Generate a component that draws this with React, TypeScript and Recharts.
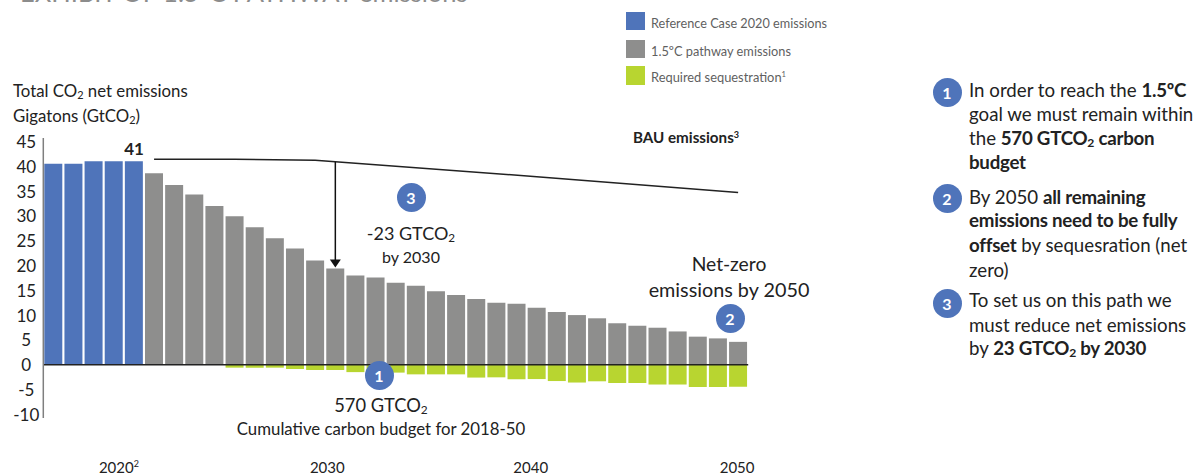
import React from "react";
import {
  Bar,
  ComposedChart,
  Line,
  ReferenceLine,
  XAxis,
  YAxis,
} from "recharts";

const FONT = "Lato, 'Open Sans', sans-serif";
const BLUE = "#4F74BA";
const GRAY = "#8E8E8D";
const GREEN = "#B8D530";
const INK = "#222";

const years = [
  2016, 2017, 2018, 2019, 2020, 2021, 2022, 2023, 2024, 2025, 2026, 2027,
  2028, 2029, 2030, 2031, 2032, 2033, 2034, 2035, 2036, 2037, 2038, 2039,
  2040, 2041, 2042, 2043, 2044, 2045, 2046, 2047, 2048, 2049, 2050,
];
const referenceCase = [40.5, 40.5, 41, 41, 41];
const pathway = [
  38.6, 36.2, 34.3, 32, 29.9, 27.7, 25.5, 23.4, 21, 19.4, 18, 17.6, 16.5, 15.9,
  14.8, 14.05, 13.25, 12.5, 12.3, 11.5, 10.6, 10, 9.35, 8.35, 7.85, 7.45, 6.7,
  5.65, 5.3, 4.6,
];
const sequestration = [
  -0.6, -0.6, -0.6, -0.87, -1.07, -1.07, -1.5, -1.5, -1.6, -1.95, -1.95, -1.95,
  -2.6, -2.55, -2.95, -2.9, -3.3, -3.6, -3.35, -3.7, -3.7, -4, -4, -4.5, -4.5,
  -4.45,
];
// BAU line is only known at a few years, the rest is bridged with connectNulls
const bauYears = [2021, 2025, 2029, 2030, 2040, 2050];
const bauValues = [41.4, 41.4, 41.2, 40.9, 37.9, 34.7];

const yTicks = [45, 40, 35, 30, 25, 20, 15, 10, 5, 0, -5, -10];
const xTicks = [2020, 2030, 2040, 2050];

const chartData = years.map((year, i) => ({
  year,
  reference: referenceCase[i] ?? null,
  pathway: i >= 5 ? pathway[i - 5] : null,
  sequestration: i >= 9 ? sequestration[i - 9] : null,
  bau: bauYears.includes(year) ? bauValues[bauYears.indexOf(year)] : null,
}));

const legendItems = [
  { color: BLUE, label: "Reference Case 2020 emissions", note: "", top: 11.5, width: 176 },
  { color: GRAY, label: "1.5ºC pathway emissions", note: "", top: 39.5, width: 140 },
  { color: GREEN, label: "Required sequestration", note: "1", top: 66, width: 135 },
];

function YTick({ x, y, payload }: any) {
  return (
    <text x={x - 9} y={y + 6.5} textAnchor="middle" fontSize={17} fill={INK} fontFamily={FONT}>
      {payload.value}
    </text>
  );
}

// the year labels sit a little left of their bars
const xTickShift: Record<number, number> = { 2020: -15, 2030: -8, 2040: -6, 2050: -1 };

function XTick({ x, payload }: any) {
  return (
    <text x={x + xTickShift[payload.value]} y={473} textAnchor="middle" fontSize={15} fill={INK} fontFamily={FONT}>
      {payload.value}
      {payload.value === 2020 && (
        <tspan fontSize={9} dy={-6}>
          2
        </tspan>
      )}
    </text>
  );
}

function ArrowLine({ x1, y1, x2, y2 }: any) {
  return (
    <g>
      <line x1={x1} y1={y1} x2={x2} y2={y2 - 6} stroke="#111" strokeWidth={1.5} />
      <polygon points={`${x2 - 5.5},${y2 - 8} ${x2 + 5.5},${y2 - 8} ${x2},${y2}`} fill="#111" />
    </g>
  );
}

function Badge({ n, x, y }: { n: number; x: number; y: number }) {
  return (
    <div
      style={{
        position: "absolute",
        left: x - 14.5,
        top: y - 14.5,
        width: 29,
        height: 29,
        borderRadius: "50%",
        background: BLUE,
        color: "#fff",
        fontWeight: 700,
        fontSize: 16,
        lineHeight: "29px",
        textAlign: "center",
      }}
    >
      {n}
    </div>
  );
}

// Centered annotation, x/y being the middle of the text
function Caption({ x, y, size, bold, children }: any) {
  return (
    <div
      style={{
        position: "absolute",
        left: x,
        top: y,
        transform: "translate(-50%, -50%)",
        fontSize: size,
        fontWeight: bold ? 700 : 400,
        whiteSpace: "nowrap",
        color: INK,
      }}
    >
      {children}
    </div>
  );
}

function NoteLine({ y, children }: any) {
  return (
    <div
      style={{
        position: "absolute",
        left: 969,
        top: y,
        transform: "translateY(-50%)",
        fontSize: 18.7,
        whiteSpace: "nowrap",
        color: INK,
      }}
    >
      {children}
    </div>
  );
}

const Strong = ({ children }: any) => (
  <b style={{ letterSpacing: "-0.25px" }}>{children}</b>
);
const Sub = ({ children }: any) => (
  <span style={{ fontSize: "0.65em", verticalAlign: "-0.2em", lineHeight: 0 }}>{children}</span>
);
const Sup = ({ children }: any) => (
  <span style={{ fontSize: "0.6em", verticalAlign: "0.5em", lineHeight: 0 }}>{children}</span>
);

export default function App() {
  return (
    <div
      style={{
        position: "absolute",
        left: 0,
        top: 0,
        width: 1204,
        height: 473,
        overflow: "hidden",
        background: "#fff",
        fontFamily: FONT,
      }}
    >
      <div
        style={{
          position: "absolute",
          left: 20,
          top: -23,
          fontSize: 25.5,
          color: "#8c8c8c",
          whiteSpace: "nowrap",
        }}
      >
        EXHIBIT OF 1.5°C PATHWAY emissions
      </div>

      <ComposedChart
        width={800}
        height={473}
        data={chartData}
        stackOffset="sign"
        barSize={18}
        margin={{ top: 138, right: 51.8, bottom: 0, left: 0 }}
      >
        <XAxis
          dataKey="year"
          height={55}
          ticks={xTicks}
          interval={0}
          axisLine={false}
          tickLine={false}
          tick={<XTick />}
        />
        <YAxis
          width={43.3}
          domain={[-10.75, 45.7]}
          ticks={yTicks}
          interval={0}
          axisLine={{ stroke: "#7f7f7f", strokeWidth: 1.5 }}
          tickLine={false}
          tick={<YTick />}
        />
        <Bar dataKey="reference" stackId="total" fill={BLUE} isAnimationActive={false} />
        <Bar dataKey="pathway" stackId="total" fill={GRAY} isAnimationActive={false} />
        <Bar dataKey="sequestration" stackId="total" fill={GREEN} isAnimationActive={false} />
        <ReferenceLine y={0} stroke={INK} strokeWidth={1.5} />
        <Line
          dataKey="bau"
          type="linear"
          stroke={INK}
          strokeWidth={1.5}
          dot={false}
          connectNulls
          isAnimationActive={false}
        />
        <ReferenceLine
          segment={[
            { x: 2030, y: 40.9 },
            { x: 2030, y: 19.6 },
          ]}
          shape={<ArrowLine />}
        />
      </ComposedChart>

      {/* Legend */}
      {legendItems.map((item) => (
        <React.Fragment key={item.label}>
          <div
            style={{
              position: "absolute",
              left: 626,
              top: item.top,
              width: 19,
              height: 18.5,
              background: item.color,
            }}
          />
          <svg
            width={200}
            height={22}
            style={{ position: "absolute", left: 651, top: item.top }}
          >
            <text
              x={0}
              y={15.5}
              fontSize={13.5}
              fill="#5f5f5f"
              textLength={item.width}
              lengthAdjust="spacingAndGlyphs"
              fontFamily={FONT}
            >
              {item.label}
              {item.note && (
                <tspan fontSize={8} dy={-5}>
                  {item.note}
                </tspan>
              )}
            </text>
          </svg>
        </React.Fragment>
      ))}

      {/* Axis title */}
      <div style={{ position: "absolute", left: 13, top: 90, fontSize: 16.8, color: INK, transform: "translateY(-50%)", whiteSpace: "nowrap" }}>
        Total CO<Sub>2</Sub> net emissions
      </div>
      <div style={{ position: "absolute", left: 13, top: 115, fontSize: 16.8, color: INK, transform: "translateY(-50%)", whiteSpace: "nowrap" }}>
        Gigatons (GtCO<Sub>2</Sub>)
      </div>

      {/* Chart annotations */}
      <Caption x={134} y={148} size={17} bold>41</Caption>
      <Caption x={686} y={137} size={15.2} bold>BAU emissions<Sup>3</Sup></Caption>
      <Caption x={411} y={233} size={18}>-23 GTCO<Sub>2</Sub></Caption>
      <Caption x={411} y={256} size={16}>by 2030</Caption>
      <Caption x={729} y={263} size={19.3}>Net-zero</Caption>
      <Caption x={729} y={289} size={19.8}>emissions by 2050</Caption>
      <Caption x={381} y={405} size={18.3}>570 GTCO<Sub>2</Sub></Caption>
      <Caption x={381} y={428} size={16.8}>Cumulative carbon budget for 2018-50</Caption>
      <Badge n={3} x={411} y={197} />
      <Badge n={2} x={730} y={318} />
      <Badge n={1} x={379} y={375} />

      {/* Key points */}
      <Badge n={1} x={947} y={92} />
      <NoteLine y={90}>In order to reach the <Strong>1.5ºC</Strong></NoteLine>
      <NoteLine y={114}>goal we must remain within</NoteLine>
      <NoteLine y={138}>the <Strong>570 GTCO<Sub>2</Sub> carbon</Strong></NoteLine>
      <NoteLine y={162}><Strong>budget</Strong></NoteLine>
      <Badge n={2} x={947} y={198} />
      <NoteLine y={197}>By 2050 <Strong>all remaining</Strong></NoteLine>
      <NoteLine y={220}><Strong>emissions need to be fully</Strong></NoteLine>
      <NoteLine y={245}><Strong>offset</Strong> by sequesration (net</NoteLine>
      <NoteLine y={270}>zero)</NoteLine>
      <Badge n={3} x={947} y={303} />
      <NoteLine y={300}>To set us on this path we</NoteLine>
      <NoteLine y={325}>must reduce net emissions</NoteLine>
      <NoteLine y={348}>by <Strong>23 GTCO<Sub>2</Sub> by 2030</Strong></NoteLine>
    </div>
  );
}
